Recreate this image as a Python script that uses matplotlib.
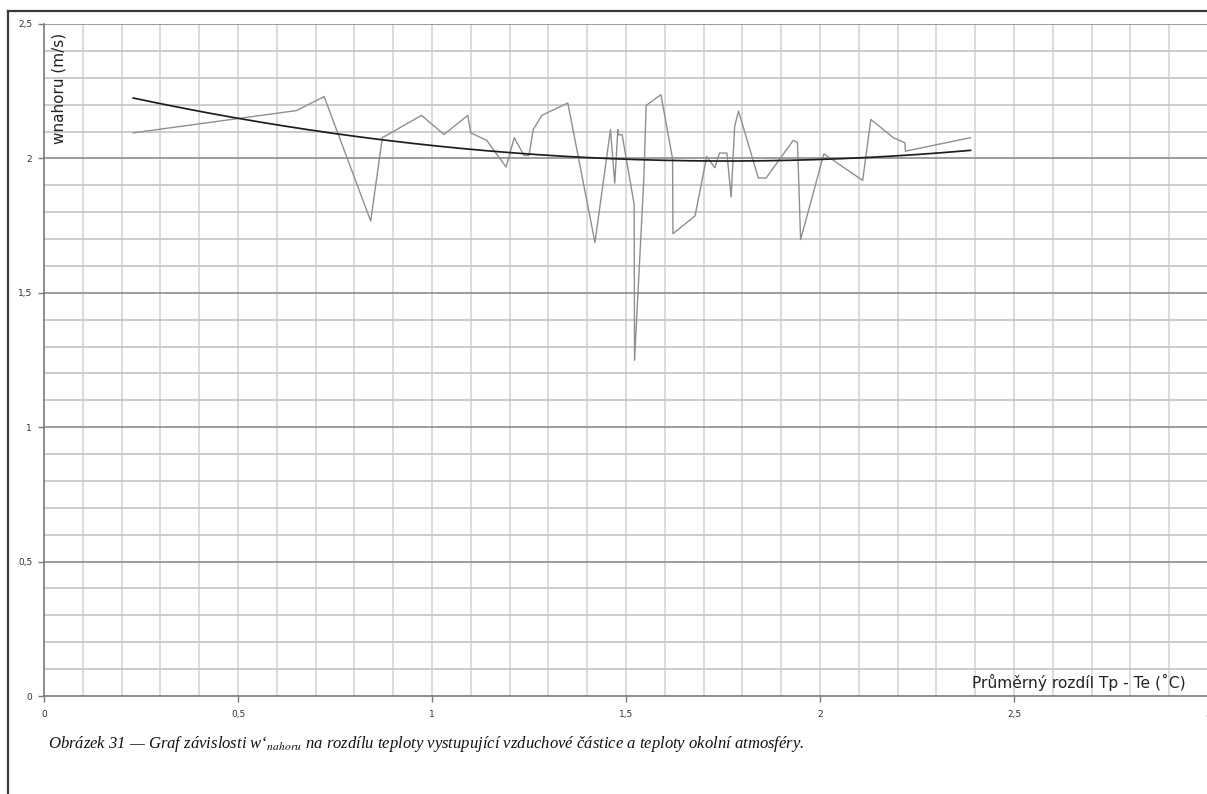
import numpy as np
import matplotlib
matplotlib.use("Agg")
import matplotlib.pyplot as plt
from matplotlib.lines import Line2D

# measured points: x = mean difference Tp - Te (°C), y = w nahoru (m/s)
x_data = [0.230, 0.651, 0.722, 0.842, 0.872, 0.973, 1.031, 1.092, 1.100, 1.141,
          1.191, 1.212, 1.237, 1.250, 1.261, 1.283, 1.350, 1.420, 1.460, 1.471,
          1.479, 1.481, 1.490, 1.521, 1.522, 1.546, 1.552, 1.590, 1.620, 1.621,
          1.678, 1.708, 1.729, 1.741, 1.760, 1.771, 1.780, 1.790, 1.841, 1.861,
          1.931, 1.942, 1.950, 2.010, 2.110, 2.131, 2.189, 2.219, 2.220, 2.388]
y_data = [2.095, 2.178, 2.230, 1.767, 2.077, 2.160, 2.089, 2.160, 2.095, 2.067,
          1.968, 2.077, 2.011, 2.011, 2.108, 2.160, 2.206, 1.687, 2.107, 1.908,
          2.107, 2.088, 2.088, 1.829, 1.249, 1.926, 2.197, 2.237, 1.999, 1.720,
          1.786, 2.007, 1.965, 2.020, 2.020, 1.856, 2.119, 2.176, 1.927, 1.927,
          2.067, 2.059, 1.698, 2.017, 1.918, 2.145, 2.077, 2.058, 2.027, 2.077]

# 2nd-order trendline coefficients (highest power first)
trend_coeffs = [0.1003, -0.3528, 2.3005]

xticks = [0, 0.5, 1, 1.5, 2, 2.5, 3]
xtick_labels = ["0", "0,5", "1", "1,5", "2", "2,5", "3"]
yticks = [0, 0.5, 1, 1.5, 2, 2.5]
ytick_labels = ["0", "0,5", "1", "1,5", "2", "2,5"]

W, H = 1207, 794
fig = plt.figure(figsize=(W / 100, H / 100), dpi=100)
fig.patch.set_facecolor("white")

ax = fig.add_axes([44 / W, (H - 696) / H, 1164 / W, 672 / H])
ax.set_xlim(0, 3)
ax.set_ylim(0, 2.5)

# grid: light verticals every 0.1, horizontals every 0.1 with darker majors
for gx in np.arange(0.1, 3.0, 0.1):
    ax.axvline(gx, color="#d6d6d6", lw=1.2, zorder=0)
for gy in np.arange(0.1, 2.55, 0.1):
    major = abs(gy / 0.5 - round(gy / 0.5)) < 1e-6
    ax.axhline(gy, color="#8c8c8c" if major else "#c4c4c4", lw=1.2, zorder=0.5)

ax.plot(x_data, y_data, color="#8f8f8f", lw=1.0, zorder=2)
xt = np.linspace(min(x_data), max(x_data), 200)
ax.plot(xt, np.polyval(trend_coeffs, xt), color="#1e1e1e", lw=1.25, zorder=3)

for s in ("top", "right"):
    ax.spines[s].set_visible(False)
for s in ("left", "bottom"):
    ax.spines[s].set_color("#7a7a7a")
    ax.spines[s].set_linewidth(1.2)

ax.set_xticks(xticks)
ax.set_xticklabels(xtick_labels)
ax.set_yticks(yticks)
ax.set_yticklabels(ytick_labels)
ax.tick_params(axis="both", direction="out", length=4, width=1, color="#7a7a7a",
               labelsize=6.5, labelcolor="#333333")
ax.tick_params(axis="x", pad=6)
ax.tick_params(axis="y", pad=4.5)

fig.text(59 / W, 1 - 33 / H, "wnahoru (m/s)", rotation=90, ha="center", va="top",
         fontsize=11, color="#222222")
fig.text(1186 / W, 1 - 682 / H, "Průměrný rozdíl Tp - Te (˚C)", ha="right", va="center",
         fontsize=11.2, color="#222222")

plt.rcParams["mathtext.fontset"] = "stix"
caption = ("Obrázek 31 — Graf závislosti w‘$_{\\mathit{nahoru}}$ na rozdílu teploty "
           "vystupující vzduchové částice a teploty okolní atmosféry.")
fig.text(48 / W, 1 - 748 / H, caption, ha="left", va="baseline",
         family="Liberation Serif", style="italic", fontsize=12, color="#111111")

# page frame lines (top and left)
fig.add_artist(Line2D([8 / W, 1.0], [1 - 11 / H, 1 - 11 / H], color="#3a3a3a", lw=1.6,
                      transform=fig.transFigure))
fig.add_artist(Line2D([8 / W, 8 / W], [1 - 11 / H, 0], color="#3a3a3a", lw=1.6,
                      transform=fig.transFigure))

fig.savefig("out.png", dpi=100)
